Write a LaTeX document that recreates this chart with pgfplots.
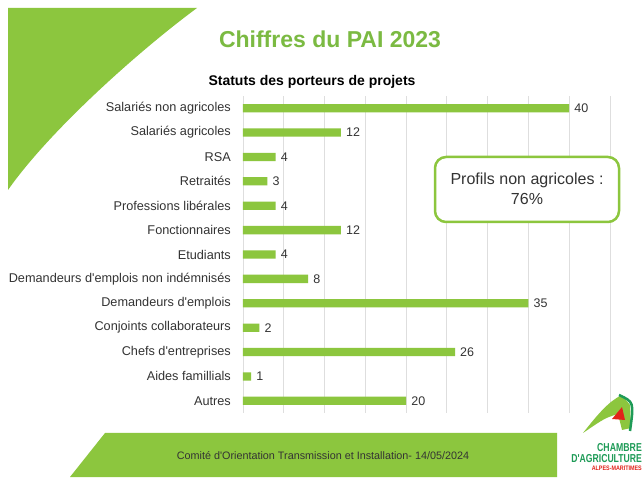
\documentclass[border=0pt]{standalone}
\usepackage{pgfplots}
\pgfplotsset{compat=1.18}
\usepackage{fontspec}
\setmainfont{Liberation Sans}
\definecolor{barg}{HTML}{8CC63E}
\definecolor{titleg}{HTML}{7BBA42}
\definecolor{txt}{HTML}{333333}
\definecolor{logog}{HTML}{1E9B57}
\definecolor{logor}{HTML}{E2231A}
\begin{document}
\begin{tikzpicture}[x=1pt,y=1pt]
\path[fill=white,use as bounding box] (0,0) rectangle (643,477);
% decorative shapes
\fill[barg] (8,469) -- (197,469) .. controls (140,427) and (50,347) .. (8,287) -- cycle;
\fill[barg] (105,44) -- (557,44) -- (557,0) -- (70,0) -- cycle;
% titles
\node[anchor=base,text=titleg,font=\fontsize{23}{27}\selectfont\bfseries] at (330,429) {Chiffres du PAI 2023};
\node[anchor=base,text=black,font=\fontsize{14}{17}\selectfont\bfseries] at (312,391) {Statuts des porteurs de projets};
\begin{axis}[at={(243pt,64pt)},anchor=south west,width=367pt,height=317pt,scale only axis,
 xbar,bar width=8.3pt,xmin=0,xmax=45,ymin=-0.5,ymax=12.5,y dir=reverse,
 ytick={0,...,12},
 yticklabels={Salariés non agricoles,Salariés agricoles,RSA,Retraités,Professions libérales,Fonctionnaires,Etudiants,Demandeurs d\textquotesingle emplois non indémnisés,Demandeurs d\textquotesingle emplois,Conjoints collaborateurs,Chefs d\textquotesingle entreprises,Aides famillials,Autres},
 xtick={0,5,...,45},xticklabels={},xmajorgrids,grid style={draw=black!13,line width=0.8pt},
 axis line style={draw=none},major tick length=0pt,
 yticklabel style={font=\fontsize{12.7}{15}\selectfont,text=txt,inner sep=0pt,xshift=-12pt},
 nodes near coords,nodes near coords style={font=\fontsize{12.5}{15}\selectfont,text=txt,inner sep=0pt,xshift=5pt},
 /pgf/number format/assume math mode=true]
\addplot[fill=barg,draw=none] coordinates {(40,0) (12,1) (4,2) (3,3) (4,4) (12,5) (4,6) (8,7) (35,8) (2,9) (26,10) (1,11) (20,12)};
\end{axis}
% callout box
\draw[barg,line width=2.5pt,rounded corners=11pt,fill=white] (435,255) rectangle (619,320);
\node[align=center,text=txt,font=\fontsize{16}{20}\selectfont] at (527,288) {Profils non agricoles :\\76\%};
% footer
\node[anchor=base,font=\fontsize{10.8}{13}\selectfont,text=txt] at (323,18) {Comité d\textquotesingle Orientation Transmission et Installation- 14/05/2024};
% logo
\fill[barg] (583,44) .. controls (598,63) and (609,76) .. (622,82) -- (630,72) -- (631,49) -- (622,47) -- (618,63) .. controls (605,59) .. (583,44);
\draw[logog,line width=2.5pt] (619,82) .. controls (634,75) .. (630,46);
\fill[logor] (612,58) -- (622,70) -- (625,57) -- cycle;
\node[anchor=base east,inner sep=0pt,text=logog,font=\fontsize{11.5}{12}\selectfont\bfseries,xscale=0.76] at (642,26) {CHAMBRE};
\node[anchor=base east,inner sep=0pt,text=logog,font=\fontsize{11.5}{12}\selectfont\bfseries,xscale=0.75] at (642,15) {D\textquotesingle AGRICULTURE};
\node[anchor=base east,inner sep=0pt,text=logor,font=\fontsize{6.5}{7}\selectfont\bfseries,xscale=0.83] at (642,6.5) {ALPES-MARITIMES};
\end{tikzpicture}
\end{document}
